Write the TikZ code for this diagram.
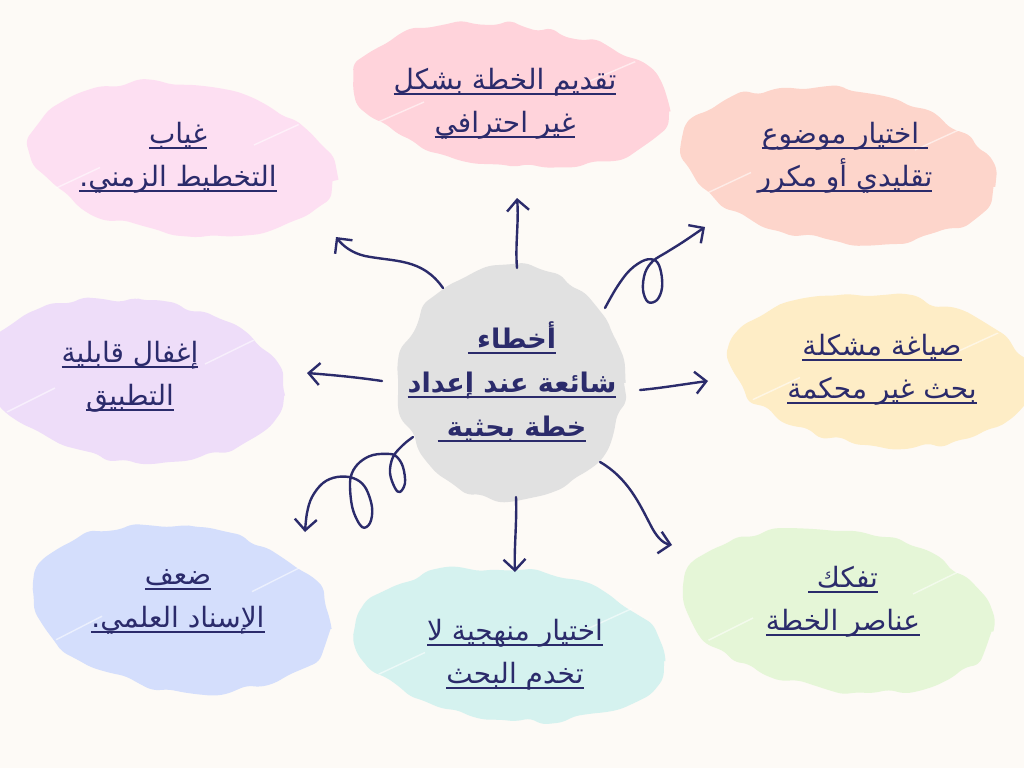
\documentclass[tikz,border=0pt]{standalone}
\usepackage{fontspec}
\TeXXeTstate=1
\newfontfamily\arabicfont[Script=Arabic]{DejaVu Sans}
\usetikzlibrary{arrows.meta,decorations.pathmorphing}
\definecolor{bg}{HTML}{FDFAF6}
\definecolor{ink}{HTML}{2B2B6B}
\definecolor{cTC}{HTML}{FFD3DB}
\definecolor{cTL}{HTML}{FDDFF2}
\definecolor{cTR}{HTML}{FDD5CB}
\definecolor{cRM}{HTML}{FEEDC6}
\definecolor{cLM}{HTML}{EEDDF9}
\definecolor{cBR}{HTML}{E5F6D7}
\definecolor{cBC}{HTML}{D5F2EF}
\definecolor{cBL}{HTML}{D4DEFC}
\definecolor{cC}{HTML}{E1E1E1}
\newsavebox\ulbox
\newcommand{\ulR}[1]{\leavevmode\sbox\ulbox{\beginR #1\endR}\rlap{\color{ink}\rule[-5pt]{\wd\ulbox}{2pt}}\usebox\ulbox}
\newcommand{\blob}[6]{%
  \fill[#1, blobedge, rotate around={#6:(#2,#3)}] (#2,#3) ellipse [x radius=#4, y radius=#5];
  \begin{scope}
    \clip[rotate around={#6:(#2,#3)}] (#2,#3) ellipse [x radius=#4, y radius=#5];
    \draw[white, opacity=0.55, line width=1.4pt] ({#2-#4-10},{#3+0.6*#5}) -- ({#2-#4+70},{#3+0.1*#5});
    \draw[white, opacity=0.55, line width=1.4pt] ({#2+#4-80},{#3-0.2*#5}) -- ({#2+#4+10},{#3-0.75*#5});
  \end{scope}}
\tikzset{
  blobedge/.style={decorate, decoration={random steps, segment length=16pt, amplitude=4pt}, rounded corners=6pt},
  lbl/.style={text=ink, align=center, font=\arabicfont\fontsize{28}{43}\selectfont},
  clbl/.style={text=ink, align=center, font=\arabicfont\bfseries\fontsize{27}{44}\selectfont},
  arr/.style={draw=ink, line width=2.4pt, line cap=round, line join=round,
    -{Straight Barb[length=11pt,width=22pt,line width=2.4pt]}}
}
\pgfmathsetseed{7}
\begin{document}
\begin{tikzpicture}[x=1pt,y=-1pt]
\fill[bg] (0,0) rectangle (1024,768);
\useasboundingbox (0,0) rectangle (1024,768);

% blobs
\blob{cTC}{512}{95}{158}{70}{-6}
\blob{cTL}{182}{160}{152}{75}{-8}
\blob{cTR}{838}{165}{157}{75}{-8}
\blob{cRM}{880}{370}{150}{75}{-6}
\blob{cLM}{135}{380}{150}{80}{-6}
\blob{cBR}{838}{610}{155}{80}{-8}
\blob{cBC}{510}{645}{155}{75}{-6}
\blob{cBL}{182}{608}{150}{82}{-8}
\fill[cC, blobedge] (512,383) ellipse [x radius=112, y radius=117];

% labels
\node[lbl] (tc) at (505,104) {\ulR{تقديم الخطة بشكل}\\\ulR{غير احترافي}};
\node[lbl] (tl) at (178,158) {\ulR{غياب}\\\ulR{التخطيط الزمني.}};
\node[lbl] (tr) at (845,158) {\ulR{ اختيار موضوع}\\\ulR{تقليدي أو مكرر}};
\node[lbl] (rm) at (882,370) {\ulR{صياغة مشكلة}\\\ulR{بحث غير محكمة}};
\node[lbl] (lm) at (130,377) {\ulR{إغفال قابلية}\\\ulR{التطبيق}};
\node[lbl] (br) at (843,602) {\ulR{تفكك }\\\ulR{عناصر الخطة}};
\node[lbl] (bc) at (515,655) {\ulR{اختيار منهجية لا}\\\ulR{تخدم البحث}};
\node[lbl] (bl) at (178,602) {\ulR{ضعف}\\\ulR{الإسناد العلمي.}};
\node[clbl] (c) at (512,382) {\ulR{أخطاء }\\\ulR{شائعة عند إعداد}\\\ulR{خطة بحثية }};

% arrows
\coordinate (aT1) at (517,268); \coordinate (aT2) at (517,198);
\draw[arr] (aT1) .. controls (515,245) and (519,222) .. (aT2);

\coordinate (aUL1) at (443,288); \coordinate (aUL2) at (336,237);
\draw[arr] (aUL1) .. controls (422,258) and (395,262) .. (365,256) .. controls (352,253) and (343,246) .. (aUL2);

\coordinate (aUR1) at (605,308); \coordinate (aUR2) at (705,227);
\draw[arr] plot[smooth, tension=0.6] coordinates {(aUR1) (617,287) (630,270) (645,260) (656,261) (661,272) (662,288) (657,300) (648,302) (643,290) (645,273) (653,261) (667,252) (683,242) (aUR2)};

\coordinate (aR1) at (640,390); \coordinate (aR2) at (708,381);
\draw[arr] (aR1) .. controls (662,388) and (685,384) .. (aR2);

\coordinate (aL1) at (382,381); \coordinate (aL2) at (307,373);
\draw[arr] (aL1) .. controls (355,377) and (332,375) .. (aL2);

\coordinate (aD1) at (516,497); \coordinate (aD2) at (515,572);
\draw[arr] (aD1) .. controls (517,522) and (514,548) .. (aD2);

\coordinate (aLR1) at (600,462); \coordinate (aLR2) at (672,545);
\draw[arr] (aLR1) .. controls (628,478) and (640,505) .. (650,524) .. controls (656,536) and (662,543) .. (aLR2);

\coordinate (aLL1) at (413,437); \coordinate (aLL2) at (305,532);
\draw[arr] plot[smooth, tension=0.6] coordinates {(aLL1) (403,445) (393,457) (390,473) (395,488) (400,492) (405,483) (403,467) (397,457) (390,454) (373,455) (360,462) (352,473) (350,487) (353,510) (362,527) (370,523) (372,507) (365,487) (353,478) (337,477) (323,483) (312,497) (307,513) (aLL2)};
\end{tikzpicture}
\end{document}
